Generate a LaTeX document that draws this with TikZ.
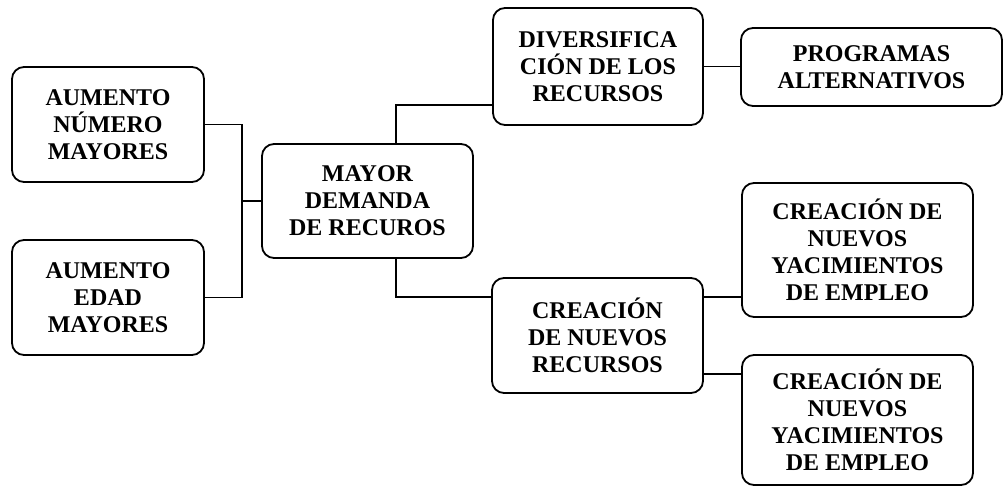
\documentclass[tikz,border=0pt]{standalone}
\usepackage{fontspec}
\setmainfont{Liberation Serif}
\begin{document}
\begin{tikzpicture}[x=1pt,y=-1pt,
  box/.style={draw, line width=1.8pt, rounded corners=12pt, align=center, inner sep=0pt,
    font=\fontsize{24}{27}\selectfont\bfseries},
  conn/.style={line width=1.5pt}]
\useasboundingbox (0,0) rectangle (1005,486);
\node[box, minimum width=192pt, minimum height=115pt] (A) at (108,124.5) {AUMENTO\\NÚMERO\\MAYORES};
\node[box, minimum width=192pt, minimum height=115pt] (B) at (108,297.5) {AUMENTO\\EDAD\\MAYORES};
\node[box, minimum width=211pt, minimum height=114pt] (C) at (367.5,201) {MAYOR\\DEMANDA\\DE RECUROS};
\node[box, minimum width=210pt, minimum height=117pt] (D) at (598,66.5) {DIVERSIFICA\\CIÓN DE LOS\\RECURSOS};
\node[box, minimum width=261pt, minimum height=78pt] (E) at (871.5,67) {PROGRAMAS\\ALTERNATIVOS};
\node[box, minimum width=211pt, minimum height=115pt] (F) at (597.5,335.5) {CREACIÓN\\DE NUEVOS\\RECURSOS};
\node[box, minimum width=231pt, minimum height=134pt] (G) at (857.5,250) {CREACIÓN DE\\NUEVOS\\YACIMIENTOS\\DE EMPLEO};
\node[box, minimum width=231pt, minimum height=130pt] (H) at (857.5,420) {CREACIÓN DE\\NUEVOS\\YACIMIENTOS\\DE EMPLEO};
\coordinate (j1) at (242,201);
\coordinate (j2) at (396,105);
\coordinate (j3) at (396,297);
\coordinate (j4) at (0,374);
\draw[conn] (A.east) -| (j1) |- (B.east);
\draw[conn] (j1) -- (C.west);
\draw[conn] (j2 |- C.north) -- (j2) -- (j2 -| D.west);
\draw[conn] (D.east) -- (D.east -| E.west);
\draw[conn] (j3 |- C.south) -- (j3) -- (j3 -| F.west);
\draw[conn] (F.east |- j3) -- (G.west |- j3);
\draw[conn] (F.east |- j4) -- (H.west |- j4);
\end{tikzpicture}
\end{document}
